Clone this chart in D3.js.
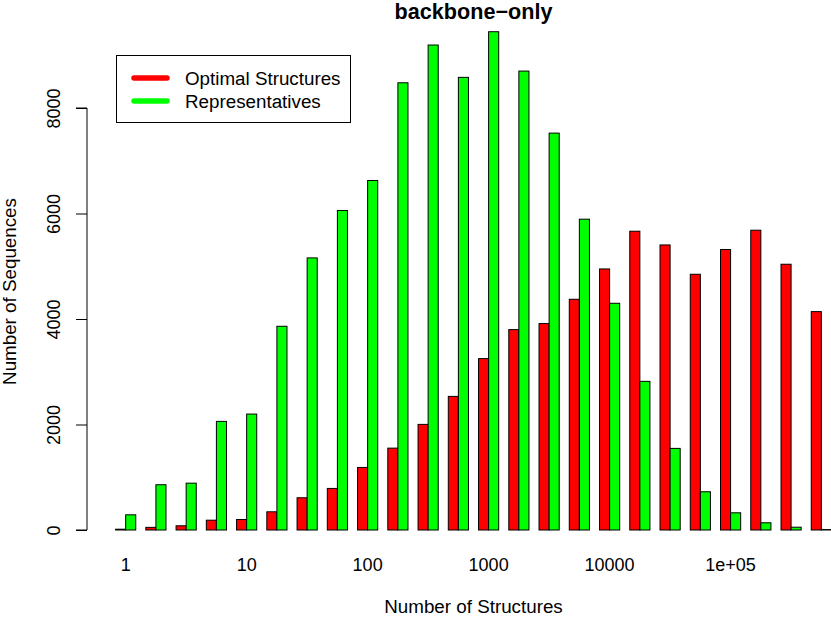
<!DOCTYPE html>
<html>
<head>
<meta charset="utf-8">
<script src="https://cdn.jsdelivr.net/npm/d3@7"></script>
<style>
  body { margin: 0; background: #fff; }
  svg { display: block; font-family: "Liberation Sans", Arial, Helvetica, sans-serif; }
</style>
</head>
<body>
<script>
// bins (number of structures), one group per quarter decade
const bins = ["1", "1.8", "3.2", "5.6", "10", "18", "32", "56", "100", "180", "320", "560",
  "1000", "1800", "3200", "5600", "10000", "18000", "32000", "56000", "1e+05", "180000", "320000", "560000"];
const shownLabels = ["1", "10", "100", "1000", "10000", "1e+05"];
const seriesNames = ["Optimal Structures", "Representatives"];
const seriesColors = ["#ff0000", "#00ff00"];

const optimal = [15, 50, 80, 186, 199, 345, 611, 788, 1186, 1552, 2002, 2533,
  3249, 3799, 3913, 4374, 4949, 5664, 5404, 4848, 5317, 5683, 5038, 4140];
const representatives = [288, 858, 888, 2059, 2198, 3862, 5158, 6057, 6626, 8478, 9194, 8581,
  9446, 8700, 7524, 5892, 4298, 2818, 1547, 725, 326, 137, 53, 8];

const yTicks = [0, 2000, 4000, 6000, 8000];

const width = 831, height = 617;
const plotLeft = 87, plotRight = 860;

const svg = d3.select("body").append("svg")
  .attr("width", width)
  .attr("height", height);

// group scale (R barplot beside=TRUE, space = c(0,1))
const x0 = d3.scaleBand()
  .domain(bins)
  .range([105.5, 841.5])
  .paddingInner(1 / 3)
  .paddingOuter(1 / 3);

const x1 = d3.scaleBand()
  .domain(seriesNames)
  .range([0, x0.bandwidth()]);

const y = d3.scaleLinear()
  .domain([0, 8000])
  .range([530, 108]);

const rows = bins.map((b, i) => ({ bin: b, vals: [optimal[i], representatives[i]] }));

// bars
const group = svg.append("g")
  .selectAll("g")
  .data(rows)
  .enter()
  .append("g")
  .attr("transform", (d) => `translate(${x0(d.bin)},0)`);

group.selectAll("rect")
  .data((d) => d.vals.map((v, k) => ({ v, k })))
  .enter()
  .append("rect")
  .attr("x", (d) => x1(seriesNames[d.k]))
  .attr("y", (d) => y(d.v))
  .attr("width", x1.bandwidth())
  .attr("height", (d) => y(0) - y(d.v))
  .attr("fill", (d) => seriesColors[d.k])
  .attr("stroke", "#000")
  .attr("stroke-width", 1);

// y axis
const yAxis = svg.append("g")
  .attr("transform", `translate(${plotLeft},0)`)
  .call(d3.axisLeft(y).tickValues(yTicks).tickSize(11).tickPadding(0).tickFormat(d3.format("d")));
yAxis.select(".domain").attr("d", `M-11,${y(8000)}H0V${y(0)}H-11`).attr("stroke", "#000");
yAxis.selectAll(".tick line").attr("stroke", "#000");
yAxis.selectAll(".tick text")
  .attr("x", null)
  .attr("dy", null)
  .attr("text-anchor", "middle")
  .attr("fill", "#000")
  .style("font-size", "18px")
  .attr("transform", "translate(-27,0) rotate(-90)");

// x labels (only every decade)
svg.append("g")
  .selectAll("text")
  .data(bins.filter((b) => shownLabels.includes(b)))
  .enter()
  .append("text")
  .attr("x", (d) => x0(d) + x0.bandwidth() / 2)
  .attr("y", 571)
  .attr("text-anchor", "middle")
  .style("font-size", "18px")
  .text((d) => d);

// titles
svg.append("text")
  .attr("x", (plotLeft + plotRight) / 2)
  .attr("y", 18.5)
  .attr("text-anchor", "middle")
  .style("font-size", "21.6px")
  .style("font-weight", "bold")
  .text("backbone\u2212only");

svg.append("text")
  .attr("x", (plotLeft + plotRight) / 2)
  .attr("y", 613)
  .attr("text-anchor", "middle")
  .style("font-size", "18.8px")
  .text("Number of Structures");

svg.append("text")
  .attr("transform", "translate(16,291.5) rotate(-90)")
  .attr("text-anchor", "middle")
  .style("font-size", "18.8px")
  .text("Number of Sequences");

// legend
const legend = svg.append("g");
legend.append("rect")
  .attr("x", 116.5)
  .attr("y", 55.5)
  .attr("width", 234)
  .attr("height", 67)
  .attr("fill", "#fff")
  .attr("stroke", "#000");

seriesNames.forEach((name, i) => {
  const ly = 78 + i * 23;
  legend.append("line")
    .attr("x1", 134)
    .attr("x2", 167)
    .attr("y1", ly)
    .attr("y2", ly)
    .attr("stroke", seriesColors[i])
    .attr("stroke-width", 5.5)
    .attr("stroke-linecap", "round");
  legend.append("text")
    .attr("x", 185)
    .attr("y", ly + 6.5)
    .style("font-size", "18.8px")
    .text(name);
});
</script>
</body>
</html>
